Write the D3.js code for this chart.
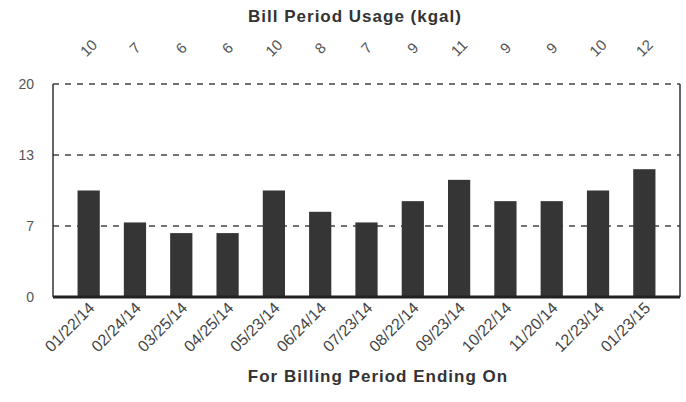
<!DOCTYPE html>
<html>
<head>
<meta charset="utf-8">
<script src="https://cdn.jsdelivr.net/npm/d3@7"></script>
<style>
  body { margin: 0; background: #fff; }
  text { font-family: "Liberation Sans", Arial, sans-serif; }
</style>
</head>
<body>
<div id="chart"></div>
<script>
// data
var periods = ["01/22/14", "02/24/14", "03/25/14", "04/25/14", "05/23/14", "06/24/14", "07/23/14",
               "08/22/14", "09/23/14", "10/22/14", "11/20/14", "12/23/14", "01/23/15"];
var usage = [10, 7, 6, 6, 10, 8, 7, 9, 11, 9, 9, 10, 12];
var yTicks = [0, 20 / 3, 40 / 3, 20];

var margin = {top: 84, right: 6, bottom: 105, left: 53};
var width = 686 - margin.left - margin.right,
    height = 402 - margin.top - margin.bottom;

var svg = d3.select("#chart").append("svg")
    .attr("width", 686)
    .attr("height", 402);

var g = svg.append("g")
    .attr("transform", "translate(" + margin.left + "," + margin.top + ")");

var x = d3.scaleBand()
    .domain(periods)
    .range([0, width])
    .paddingInner(0.52)
    .paddingOuter(0.53);

var y = d3.scaleLinear()
    .domain([0, 20])
    .range([height, 0]);

// dashed gridlines
g.selectAll("line.grid")
    .data(yTicks.slice(1))
    .enter().append("line")
    .attr("class", "grid")
    .attr("x1", 0)
    .attr("x2", width)
    .attr("y1", function(d) { return y(d); })
    .attr("y2", function(d) { return y(d); })
    .attr("stroke", "#444")
    .attr("stroke-width", 1.3)
    .attr("stroke-dasharray", "6,6");

// y axis labels
var yAxis = d3.axisLeft(y)
    .tickValues(yTicks)
    .tickSize(0)
    .tickPadding(19)
    .tickFormat(function(d) { return Math.round(d); });
g.append("g")
    .attr("class", "y axis")
    .call(yAxis)
    .call(function(s) {
        s.select(".domain").remove();
        s.selectAll("text")
            .style("font-size", "14px")
            .attr("fill", "#555");
    });

// bars
g.selectAll("rect.bar")
    .data(usage)
    .enter().append("rect")
    .attr("class", "bar")
    .attr("x", function(d, i) { return x(periods[i]); })
    .attr("width", x.bandwidth())
    .attr("y", function(d) { return y(d); })
    .attr("height", function(d) { return height - y(d); })
    .attr("fill", "#353535");

// frame: left, right solid, bottom thick
g.append("line").attr("x1", 0).attr("x2", 0).attr("y1", 0).attr("y2", height)
    .attr("stroke", "#333").attr("stroke-width", 1.5);
g.append("line").attr("x1", width).attr("x2", width).attr("y1", 0).attr("y2", height)
    .attr("stroke", "#333").attr("stroke-width", 1.5);
g.append("line").attr("x1", 0).attr("x2", width).attr("y1", height).attr("y2", height)
    .attr("stroke", "#222").attr("stroke-width", 3);

// x axis labels (dates)
var xAxis = d3.axisBottom(x).tickSize(0).tickPadding(0);
g.append("g")
    .attr("class", "x axis")
    .attr("transform", "translate(0," + height + ")")
    .call(xAxis)
    .call(function(s) {
        s.select(".domain").remove();
        s.selectAll("text")
            .style("font-size", "16px")
            .attr("fill", "#444")
            .attr("text-anchor", "end")
            .attr("dy", 0)
            .attr("transform", "translate(7,12) rotate(-45)");
    });

// top usage labels
var xTop = d3.axisTop(x).tickSize(0).tickPadding(0)
    .tickFormat(function(d, i) { return usage[i]; });
g.append("g")
    .attr("class", "x top")
    .attr("transform", "translate(0,-36)")
    .call(xTop)
    .call(function(s) {
        s.select(".domain").remove();
        s.selectAll("text")
            .style("font-size", "15px")
            .attr("fill", "#555")
            .attr("text-anchor", "middle")
            .attr("dy", "0.35em")
            .attr("y", 0)
            .attr("transform", "rotate(-45)");
    });

// titles
svg.append("text")
    .attr("x", 355)
    .attr("y", 22)
    .attr("text-anchor", "middle")
    .style("font-size", "17px")
    .style("font-weight", "bold")
    .style("letter-spacing", "1px")
    .attr("fill", "#333")
    .text("Bill Period Usage (kgal)");

svg.append("text")
    .attr("x", 378)
    .attr("y", 382)
    .attr("text-anchor", "middle")
    .style("font-size", "17px")
    .style("font-weight", "bold")
    .style("letter-spacing", "1px")
    .attr("fill", "#333")
    .text("For Billing Period Ending On");
</script>
</body>
</html>
